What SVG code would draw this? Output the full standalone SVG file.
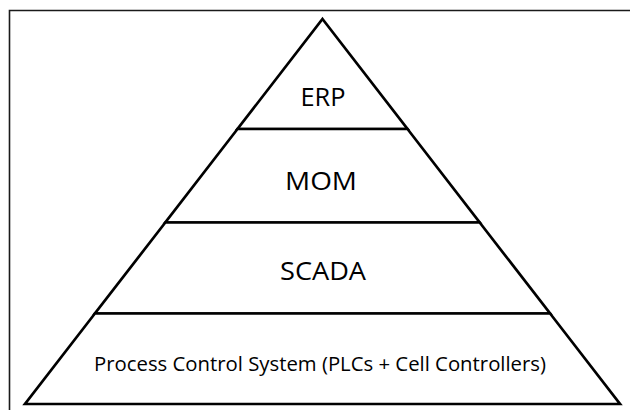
<svg xmlns="http://www.w3.org/2000/svg" width="630" height="410" viewBox="0 0 630 410">
  <style>
    .frame { fill: none; stroke: #1a1a1a; stroke-width: 1.6; }
    .tier { fill: #ffffff; stroke: #000000; stroke-width: 2.7; stroke-linejoin: miter; }
    .label { font-family: "Open Sans", "Noto Sans", sans-serif; fill: #000000; text-anchor: middle; }
    .big { font-size: 26px; }
    .small { font-size: 20px; }
  </style>
  <rect width="630" height="410" fill="#ffffff"/>
  <!-- page frame: top and left edges -->
  <polyline class="frame" points="9.5,410 9.5,10.5 630,10.5"/>

  <!-- pyramid tiers, top to bottom -->
  <g id="erp">
    <polygon class="tier" points="322.5,19 407.5,129 237.5,129"/>
    <text class="label big" x="323" y="105.5" textLength="45" lengthAdjust="spacingAndGlyphs">ERP</text>
  </g>
  <g id="mom">
    <polygon class="tier" points="237.5,129 407.5,129 479.7,222.5 165.3,222.5"/>
    <text class="label big" x="321" y="190" textLength="72" lengthAdjust="spacingAndGlyphs">MOM</text>
  </g>
  <g id="scada">
    <polygon class="tier" points="165.3,222.5 479.7,222.5 550.1,313.5 94.9,313.5"/>
    <text class="label big" x="323" y="280" textLength="86" lengthAdjust="spacingAndGlyphs">SCADA</text>
  </g>
  <g id="process-control">
    <polygon class="tier" points="94.9,313.5 550.1,313.5 620,404 25,404"/>
    <text class="label small" x="320" y="370.5" textLength="452" lengthAdjust="spacingAndGlyphs">Process Control System (PLCs + Cell Controllers)</text>
  </g>

  <g id="connectors"/>
</svg>
